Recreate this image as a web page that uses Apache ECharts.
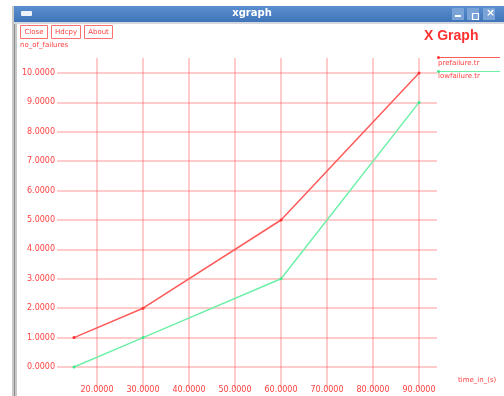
<!DOCTYPE html>
<html>
<head>
<meta charset="utf-8">
<script src="https://cdn.jsdelivr.net/npm/echarts@6/dist/echarts.min.js"></script>
<style>
  html, body { margin: 0; padding: 0; background: #ffffff; }
  #chart { width: 504px; height: 396px; }
</style>
</head>
<body>
<div id="chart"></div>
<script>
// Sample times (s) and failure counts for the two trace files
const times = [15, 30, 60, 90];
const prefailure = [1, 2, 5, 10];
const lowfailure = [0, 1, 3, 9];
const xTicks = [20, 30, 40, 50, 60, 70, 80, 90];
const yTicks = [0, 1, 2, 3, 4, 5, 6, 7, 8, 9, 10];

const RED = '#ff4040';
const GRID = 'rgba(255, 90, 90, 0.42)';
const LABEL_FONT = 'DejaVu Sans';

const chart = echarts.init(document.getElementById('chart'), null, { renderer: 'canvas' });

const fmt4 = v => Number(v).toFixed(4);

function button(x, w, text) {
  return {
    type: 'group',
    left: x, top: 25,
    children: [
      { type: 'rect', shape: { x: 0, y: 0, width: w, height: 13 },
        style: { fill: '#fff', stroke: '#ff7070', lineWidth: 1 } },
      { type: 'text', style: { x: w / 2, y: 7, text: text, fill: RED,
        font: '7px ' + LABEL_FONT, align: 'center', verticalAlign: 'middle' } }
    ]
  };
}

const option = {
  backgroundColor: '#ffffff',
  animation: false,
  grid: [
    // plot area: horizontal grid lines, y labels and data
    { left: 57, width: 380, top: 73, height: 294 },
    // vertical grid lines and x labels
    { left: 51, width: 368, top: 58, height: 330 }
  ],
  xAxis: [
    {
      gridIndex: 0, type: 'value', min: 11.3, max: 93.9,
      show: false, splitLine: { show: false }
    },
    {
      gridIndex: 1, type: 'value', min: 10, max: 90, interval: 10,
      axisLine: { show: false }, axisTick: { show: false },
      axisLabel: {
        showMinLabel: false, color: RED, fontSize: 8, fontFamily: LABEL_FONT,
        margin: -2, formatter: fmt4
      },
      splitLine: { show: true, showMinLine: false, lineStyle: { color: GRID, width: 1.5 } }
    }
  ],
  yAxis: [
    {
      gridIndex: 0, type: 'value', min: 0, max: 10, interval: 1,
      axisLine: { show: false }, axisTick: { show: false },
      axisLabel: { color: RED, fontSize: 8, fontFamily: LABEL_FONT, margin: 2, formatter: fmt4 },
      splitLine: { show: true, lineStyle: { color: GRID, width: 1.5 } }
    },
    {
      gridIndex: 1, type: 'value', min: 0, max: 1, show: false,
      splitLine: { show: false }
    }
  ],
  series: [
    {
      name: 'prefailure.tr', type: 'line', xAxisIndex: 0, yAxisIndex: 0,
      data: times.map((t, i) => [t, prefailure[i]]),
      symbol: 'circle', symbolSize: 3,
      lineStyle: { color: '#ff5a5a', width: 1.5 },
      itemStyle: { color: '#ff3030' }
    },
    {
      name: 'lowfailure.tr', type: 'line', xAxisIndex: 0, yAxisIndex: 0,
      data: times.map((t, i) => [t, lowfailure[i]]),
      symbol: 'circle', symbolSize: 3,
      lineStyle: { color: '#6ff0a8', width: 1.5 },
      itemStyle: { color: '#3ee888' }
    }
  ],
  graphic: [
    // window frame: left edge strip
    { type: 'rect', left: 12, top: 6, shape: { width: 5, height: 390 },
      style: { fill: '#c8c8c8' } },
    { type: 'rect', left: 14, top: 6, shape: { width: 1, height: 390 },
      style: { fill: '#8a8a8a' } },
    // title bar
    { type: 'rect', left: 14, top: 6, shape: { width: 490, height: 16 },
      style: { fill: new echarts.graphic.LinearGradient(0, 0, 0, 1, [
        { offset: 0, color: '#5b8fd0' }, { offset: 1, color: '#3f74b8' }]) } },
    { type: 'rect', left: 14, top: 22, shape: { width: 490, height: 2 },
      style: { fill: '#d4d8de' } },
    { type: 'rect', left: 21, top: 11, shape: { width: 11, height: 5, r: 1 },
      style: { fill: '#eef3fa' } },
    { type: 'text', left: 'center', top: 8, style: { text: 'xgraph', fill: '#ffffff',
      font: 'bold 10px ' + LABEL_FONT } },
    // title bar controls
    { type: 'rect', left: 452, top: 8, shape: { width: 12, height: 12 },
      style: { fill: '#7aa3d8' } },
    { type: 'rect', left: 455, top: 15, shape: { width: 6, height: 2 },
      style: { fill: '#ffffff' } },
    { type: 'rect', left: 467, top: 8, shape: { width: 12, height: 12 },
      style: { fill: '#7aa3d8' } },
    { type: 'rect', left: 470, top: 11, shape: { width: 6, height: 6 },
      style: { fill: 'none', stroke: '#ffffff', lineWidth: 1.2 } },
    { type: 'rect', left: 483, top: 8, shape: { width: 12, height: 12 },
      style: { fill: '#7aa3d8' } },
    { type: 'text', left: 486, top: 8, style: { text: '×', fill: '#ffffff',
      font: 'bold 11px ' + LABEL_FONT } },
    // control buttons
    button(20, 27, 'Close'),
    button(51, 29, 'Hdcpy'),
    button(84, 28, 'About'),
    // headings
    { type: 'text', left: 424, top: 29, style: { text: 'X Graph', fill: '#ff3030',
      font: 'bold 14px "Liberation Sans"' } },
    { type: 'text', left: 20, top: 42, style: { text: 'no_of_failures', fill: RED,
      font: '7px ' + LABEL_FONT } },
    { type: 'text', left: 458, top: 377, style: { text: 'time_in_(s)', fill: RED,
      font: '7px ' + LABEL_FONT } },
    // legend
    { type: 'rect', left: 438, top: 57, shape: { width: 62, height: 1 },
      style: { fill: '#ff5a5a' } },
    { type: 'circle', left: 437, top: 56, shape: { r: 1.5 }, style: { fill: '#ff3030' } },
    { type: 'text', left: 438, top: 60, style: { text: 'prefailure.tr', fill: RED,
      font: '7px ' + LABEL_FONT } },
    { type: 'rect', left: 438, top: 71, shape: { width: 62, height: 1 },
      style: { fill: '#6ff0a8' } },
    { type: 'circle', left: 437, top: 70, shape: { r: 1.5 }, style: { fill: '#3ee888' } },
    { type: 'text', left: 438, top: 73, style: { text: 'lowfailure.tr', fill: RED,
      font: '7px ' + LABEL_FONT } }
  ]
};

chart.setOption(option);
</script>
</body>
</html>
